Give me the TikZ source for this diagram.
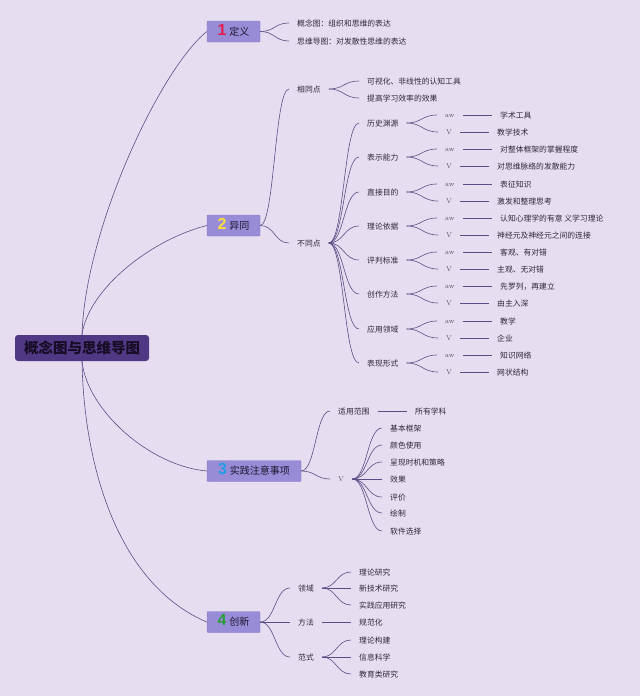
\documentclass[tikz,border=0pt]{standalone}
\usepackage{fontspec}
\usepackage{tikz}
\usepackage{xcolor}
\usetikzlibrary{calc}
\newfontfamily\cjk{Noto Sans CJK SC}
\newfontfamily\numfont{Liberation Sans}
\definecolor{bgmauve}{RGB}{230,222,240}
\definecolor{rootfill}{RGB}{80,56,132}
\definecolor{rootink}{RGB}{22,12,36}
\definecolor{topicfill}{RGB}{152,140,214}
\definecolor{topicedge}{RGB}{132,120,196}
\definecolor{topicink}{RGB}{30,22,48}
\definecolor{twigline}{RGB}{90,78,134}
\definecolor{leafink}{RGB}{46,40,58}
\definecolor{taggray}{RGB}{90,84,104}
\definecolor{numred}{RGB}{226,30,78}
\definecolor{numyellow}{RGB}{250,222,60}
\definecolor{numblue}{RGB}{36,158,228}
\definecolor{numgreen}{RGB}{40,158,56}
\newcommand\topicnum[2]{{\numfont\bfseries\fontsize{16}{16}\selectfont\textcolor{#1}{#2}}\hspace{3pt}}

\begin{document}
\begin{tikzpicture}[x=1pt,y=-1pt]
				\tikzstyle{every node}+=[inner sep=0pt]
				\tikzstyle{rootbox}=[fill=rootfill, rounded corners=3pt, minimum width=134pt, minimum height=26pt, text=rootink, font=\cjk\bfseries\fontsize{14.5}{15}\selectfont]
				\tikzstyle{topic}=[fill=topicfill, draw=topicedge, line width=0.4pt, rounded corners=1pt, minimum height=21pt, text height=8pt, text depth=1pt, text=topicink, font=\cjk\fontsize{10}{10}\selectfont]
				\tikzstyle{leaf}=[anchor=west, inner xsep=8pt, inner ysep=1pt, text height=6pt, text depth=0pt, text=leafink, font=\cjk\fontsize{7.8}{8}\selectfont]
				\tikzstyle{tag}=[anchor=west, inner xsep=8pt, inner ysep=1pt, text height=5pt, text depth=0pt, text=taggray, font=\rmfamily\fontsize{7}{8}\selectfont]
				\tikzstyle{twig}=[draw=twigline, line width=0.6pt, to path={.. controls ($(\tikztostart)!0.5!(\tikztostart -| \tikztotarget)$) and ($(\tikztotarget)!0.5!(\tikztotarget -| \tikztostart)$) .. (\tikztotarget)}]
				\tikzstyle{stem}=[draw=twigline, line width=0.6pt]
				\fill [bgmauve] (0,0) rectangle (640,696);
				\useasboundingbox (0,0) rectangle (640,696);
				\node [rootbox] (map) at (82,348) {概念图与思维导图};
				\node [topic, minimum width=53pt] (d1) at (233.5,31.5) {\topicnum{numred}{1}定义};
				\node [topic, minimum width=53pt] (d2) at (233.5,225.5) {\topicnum{numyellow}{2}异同};
				\node [topic, minimum width=94pt] (d3) at (254,471) {\topicnum{numblue}{3}实践注意事项};
				\node [topic, minimum width=53pt] (d4) at (233.5,622) {\topicnum{numgreen}{4}创新};
				\draw [stem] (map.north) .. controls +(3,-105) and +(-47,38) .. (d1.west);
				\draw [stem] (map.north) .. controls +(6,-45) and +(-57,14.5) .. (d2.west);
				\draw [stem] (map.south) .. controls +(5,49) and +(-57,-5) .. (d3.west);
				\draw [stem] (map.south) .. controls +(2,109) and +(-87,-37) .. (d4.west);
				\node [leaf] (def1) at (289,23) {概念图：组织和思维的表达};
				\node [leaf] (def2) at (289,41) {思维导图：对发散性思维的表达};
				\draw [twig] (d1.east) to (def1.west);
				\draw [twig] (d1.east) to (def2.west);
				\node [leaf] (same) at (289,89) {相同点};
				\node [leaf] (same1) at (359,81) {可视化、非线性的认知工具};
				\node [leaf] (same2) at (359,98) {提高学习效率的效果};
				\node [leaf] (diff) at (289,243) {不同点};
				\draw [twig] (d2.east) to (same.west);
				\draw [twig] (d2.east) to (diff.west);
				\draw [twig] (same.east) to (same1.west);
				\draw [twig] (same.east) to (same2.west);
				\node [leaf] (c1) at (359,123) {历史渊源};
				\node [tag] (a1) at (437,115) {aw};
				\node [tag] (v1) at (438,132) {V};
				\node [leaf] (at1) at (492,115) {学术工具};
				\node [leaf] (vt1) at (489,132) {教学技术};
				\node [leaf] (c2) at (359,157) {表示能力};
				\node [tag] (a2) at (437,149) {aw};
				\node [tag] (v2) at (438,166) {V};
				\node [leaf] (at2) at (492,149) {对整体框架的掌握程度};
				\node [leaf] (vt2) at (489,166) {对思维脉络的发散能力};
				\node [leaf] (c3) at (359,192) {直接目的};
				\node [tag] (a3) at (437,184) {aw};
				\node [tag] (v3) at (438,201) {V};
				\node [leaf] (at3) at (492,184) {表征知识};
				\node [leaf] (vt3) at (489,201) {激发和整理思考};
				\node [leaf] (c4) at (359,226) {理论依据};
				\node [tag] (a4) at (437,218) {aw};
				\node [tag] (v4) at (438,235) {V};
				\node [leaf] (at4) at (492,218) {认知心理学的有意 义学习理论};
				\node [leaf] (vt4) at (489,235) {神经元及神经元之间的连接};
				\node [leaf] (c5) at (359,260) {评判标准};
				\node [tag] (a5) at (437,252) {aw};
				\node [tag] (v5) at (438,269) {V};
				\node [leaf] (at5) at (492,252) {客观、有对错};
				\node [leaf] (vt5) at (489,269) {主观、无对错};
				\node [leaf] (c6) at (359,294) {创作方法};
				\node [tag] (a6) at (437,286) {aw};
				\node [tag] (v6) at (438,303) {V};
				\node [leaf] (at6) at (492,286) {先罗列，再建立};
				\node [leaf] (vt6) at (489,303) {由主入深};
				\node [leaf] (c7) at (359,329) {应用领域};
				\node [tag] (a7) at (437,321) {aw};
				\node [tag] (v7) at (438,338) {V};
				\node [leaf] (at7) at (492,321) {教学};
				\node [leaf] (vt7) at (489,338) {企业};
				\node [leaf] (c8) at (359,363) {表现形式};
				\node [tag] (a8) at (437,355) {aw};
				\node [tag] (v8) at (438,372) {V};
				\node [leaf] (at8) at (492,355) {知识网络};
				\node [leaf] (vt8) at (489,372) {网状结构};
				\draw [twig] (diff.east) to (c1.west);
				\draw [twig] (diff.east) to (c2.west);
				\draw [twig] (diff.east) to (c3.west);
				\draw [twig] (diff.east) to (c4.west);
				\draw [twig] (diff.east) to (c5.west);
				\draw [twig] (diff.east) to (c6.west);
				\draw [twig] (diff.east) to (c7.west);
				\draw [twig] (diff.east) to (c8.west);
				\draw [twig] (c1.east) to (a1.west);
				\draw [twig] (c1.east) to (v1.west);
				\draw [twig] (c2.east) to (a2.west);
				\draw [twig] (c2.east) to (v2.west);
				\draw [twig] (c3.east) to (a3.west);
				\draw [twig] (c3.east) to (v3.west);
				\draw [twig] (c4.east) to (a4.west);
				\draw [twig] (c4.east) to (v4.west);
				\draw [twig] (c5.east) to (a5.west);
				\draw [twig] (c5.east) to (v5.west);
				\draw [twig] (c6.east) to (a6.west);
				\draw [twig] (c6.east) to (v6.west);
				\draw [twig] (c7.east) to (a7.west);
				\draw [twig] (c7.east) to (v7.west);
				\draw [twig] (c8.east) to (a8.west);
				\draw [twig] (c8.east) to (v8.west);
				\draw [stem] (a1.east) -- (at1.west);
				\draw [stem] (v1.east) -- (vt1.west);
				\draw [stem] (a2.east) -- (at2.west);
				\draw [stem] (v2.east) -- (vt2.west);
				\draw [stem] (a3.east) -- (at3.west);
				\draw [stem] (v3.east) -- (vt3.west);
				\draw [stem] (a4.east) -- (at4.west);
				\draw [stem] (v4.east) -- (vt4.west);
				\draw [stem] (a5.east) -- (at5.west);
				\draw [stem] (v5.east) -- (vt5.west);
				\draw [stem] (a6.east) -- (at6.west);
				\draw [stem] (v6.east) -- (vt6.west);
				\draw [stem] (a7.east) -- (at7.west);
				\draw [stem] (v7.east) -- (vt7.west);
				\draw [stem] (a8.east) -- (at8.west);
				\draw [stem] (v8.east) -- (vt8.west);
				\node [leaf] (scope) at (330,411) {适用范围};
				\node [leaf] (allsub) at (407,411) {所有学科};
				\node [tag] (pv) at (330,479) {V};
				\node [leaf] (p1) at (382,428) {基本框架};
				\node [leaf] (p2) at (382,445) {颜色使用};
				\node [leaf] (p3) at (382,462) {呈现时机和策略};
				\node [leaf] (p4) at (382,479) {效果};
				\node [leaf] (p5) at (382,497) {评价};
				\node [leaf] (p6) at (382,513) {绘制};
				\node [leaf] (p7) at (382,531) {软件选择};
				\draw [twig] (d3.east) to (scope.west);
				\draw [twig] (d3.east) to (pv.west);
				\draw [stem] (scope.east) -- (allsub.west);
				\draw [twig] (pv.east) to (p1.west);
				\draw [twig] (pv.east) to (p2.west);
				\draw [twig] (pv.east) to (p3.west);
				\draw [twig] (pv.east) to (p4.west);
				\draw [twig] (pv.east) to (p5.west);
				\draw [twig] (pv.east) to (p6.west);
				\draw [twig] (pv.east) to (p7.west);
				\node [leaf] (field) at (290,588) {领域};
				\node [leaf] (method) at (290,622) {方法};
				\node [leaf] (para) at (290,657) {范式};
				\node [leaf] (f1) at (351,572) {理论研究};
				\node [leaf] (f2) at (351,588) {新技术研究};
				\node [leaf] (f3) at (351,605) {实践应用研究};
				\node [leaf] (m1) at (351,622) {规范化};
				\node [leaf] (r1) at (351,640) {理论构建};
				\node [leaf] (r2) at (351,657) {信息科学};
				\node [leaf] (r3) at (351,674) {教育类研究};
				\draw [twig] (d4.east) to (field.west);
				\draw [twig] (d4.east) to (method.west);
				\draw [twig] (d4.east) to (para.west);
				\draw [twig] (field.east) to (f1.west);
				\draw [twig] (field.east) to (f2.west);
				\draw [twig] (field.east) to (f3.west);
				\draw [stem] (method.east) -- (m1.west);
				\draw [twig] (para.east) to (r1.west);
				\draw [twig] (para.east) to (r2.west);
				\draw [twig] (para.east) to (r3.west);
\end{tikzpicture}
\end{document}
